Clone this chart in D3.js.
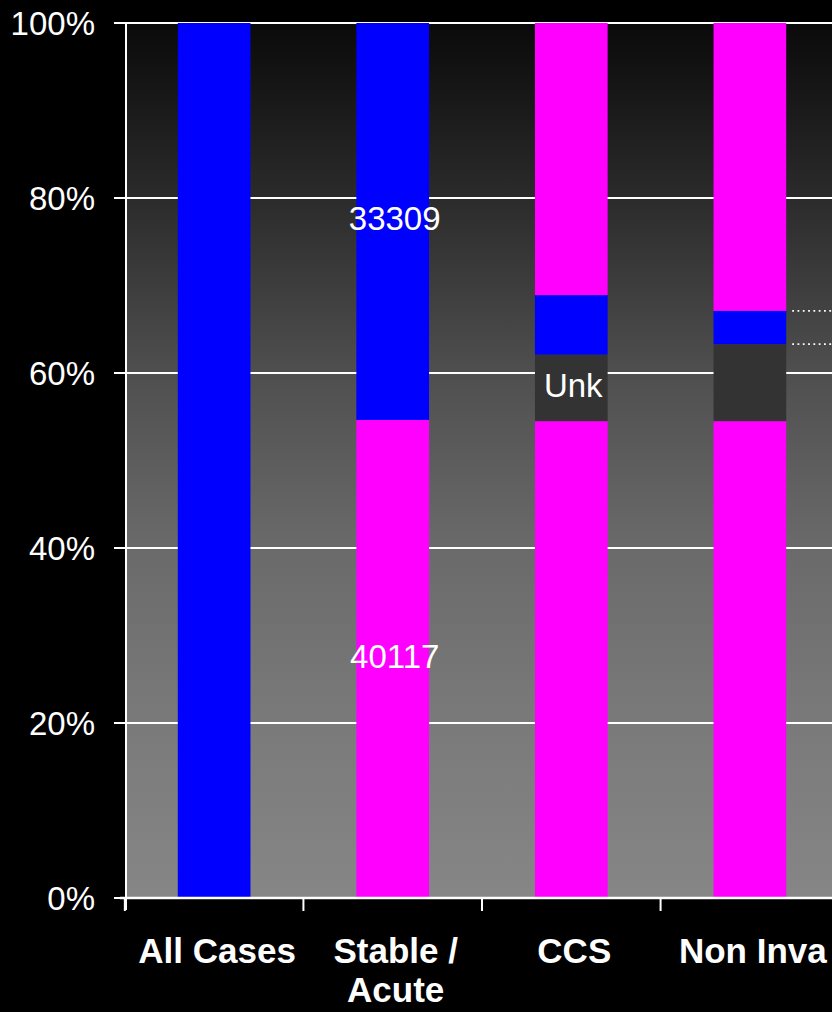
<!DOCTYPE html>
<html>
<head>
<meta charset="utf-8">
<script src="https://cdn.jsdelivr.net/npm/d3@7"></script>
<style>
  html, body { margin: 0; padding: 0; background: #000; }
  svg { display: block; }
</style>
</head>
<body>
<svg id="chart" width="832" height="1012"></svg>
<script>
// Categories along the x axis
const categories = ["All Cases", "Stable / Acute", "CCS", "Non Inva"];
const categoryLines = [["All Cases"], ["Stable /", "Acute"], ["CCS"], ["Non Inva"]];

// Stacked segments per category, percentages of the column, bottom to top
const allCases  = [0, 0, 0, 100];
const stableAcuteCounts = [40117, 33309];
const stableAcute = [
  stableAcuteCounts[0] / (stableAcuteCounts[0] + stableAcuteCounts[1]) * 100,
  0, 0,
  stableAcuteCounts[1] / (stableAcuteCounts[0] + stableAcuteCounts[1]) * 100
];
// CCS: pink, unknown, blue, pink
const ccs      = [54.5, 7.6, 6.8, 31.1];
// Non invasive: pink, unknown, blue, pink
const nonInva  = [54.5, 8.8, 3.8, 32.9];

const yTicks = [0, 20, 40, 60, 80, 100];
const yTickLabels = ["0%", "20%", "40%", "60%", "80%", "100%"];

// Segment fill per column (bottom to top)
const colorsAll    = ["#ff00ff", "#0000ff", "#333333", "#0000ff"];
const colorsStable = ["#ff00ff", "#333333", "#0000ff", "#0000ff"];
const colorsSplit  = ["#ff00ff", "#333333", "#0000ff", "#ff00ff"];

const columns = [
  { cat: categories[0], values: allCases,    colors: colorsAll },
  { cat: categories[1], values: stableAcute, colors: colorsStable },
  { cat: categories[2], values: ccs,         colors: colorsSplit },
  { cat: categories[3], values: nonInva,     colors: colorsSplit }
];

const svg = d3.select("#chart");
const plotLeft = 126, plotTop = 23, plotBottom = 898, step = 178;
const plotRight = plotLeft + step * categories.length;

const x = d3.scaleBand()
  .domain(categories)
  .range([plotLeft, plotRight])
  .paddingInner(0.593)
  .paddingOuter(0.29);

const y = d3.scaleLinear().domain([0, 100]).range([plotBottom, plotTop]);

// Plot area gradient background
const defs = svg.append("defs");
const grad = defs.append("linearGradient")
  .attr("id", "plotBg").attr("x1", 0).attr("y1", 0).attr("x2", 0).attr("y2", 1);
[[0, "#0a0a0a"], [0.2, "#2b2b2b"], [0.4, "#4f4f4f"], [0.6, "#6a6a6a"], [0.8, "#7a7a7a"], [1, "#868686"]]
  .forEach(([o, c]) => grad.append("stop").attr("offset", o).attr("stop-color", c));

svg.append("rect")
  .attr("x", plotLeft).attr("y", plotTop)
  .attr("width", plotRight - plotLeft).attr("height", plotBottom - plotTop)
  .attr("fill", "url(#plotBg)");

// Horizontal gridlines
svg.append("g")
  .selectAll("line")
  .data(yTicks.filter(d => d > 0))
  .join("line")
  .attr("x1", plotLeft).attr("x2", plotRight)
  .attr("y1", d => y(d)).attr("y2", d => y(d))
  .attr("stroke", "#fff").attr("stroke-width", 2);

// Stacked bars
columns.forEach(col => {
  let acc = 0;
  col.values.forEach((v, i) => {
    if (v <= 0) return;
    svg.append("rect")
      .attr("x", x(col.cat))
      .attr("width", x.bandwidth())
      .attr("y", y(acc + v))
      .attr("height", y(acc) - y(acc + v))
      .attr("fill", col.colors[i]);
    acc += v;
  });
});

// Series lines trailing to the right of the last column
const lastCol = columns[3];
const lineLevels = [
  lastCol.values[0] + lastCol.values[1],
  lastCol.values[0] + lastCol.values[1] + lastCol.values[2]
];
svg.append("g")
  .selectAll("line")
  .data(lineLevels)
  .join("line")
  .attr("x1", x(lastCol.cat) + x.bandwidth() + 6)
  .attr("x2", plotRight)
  .attr("y1", d => y(d)).attr("y2", d => y(d))
  .attr("stroke", "#fff").attr("stroke-width", 1.8)
  .attr("stroke-dasharray", "1.8,3.5");

// Data labels
const labelFont = "'Liberation Sans', Arial, sans-serif";
const dataLabels = [
  { cat: categories[1], lo: 0, hi: stableAcute[0], text: String(stableAcuteCounts[0]) },
  { cat: categories[1], lo: stableAcute[0], hi: 100, text: String(stableAcuteCounts[1]) },
  { cat: categories[2], lo: ccs[0], hi: ccs[0] + ccs[1], text: "Unk" }
];
svg.append("g")
  .selectAll("text")
  .data(dataLabels)
  .join("text")
  .attr("x", d => x(d.cat) + x.bandwidth() / 2 + 2)
  .attr("y", d => y((d.lo + d.hi) / 2) + 9)
  .attr("text-anchor", "middle")
  .attr("fill", "#fff")
  .attr("font-family", labelFont)
  .attr("font-size", 33)
  .text(d => d.text);

// Left axis
svg.append("line")
  .attr("x1", plotLeft).attr("x2", plotLeft).attr("y1", plotTop).attr("y2", plotBottom + 12)
  .attr("stroke", "#fff").attr("stroke-width", 2);
svg.append("g")
  .selectAll("line")
  .data(yTicks)
  .join("line")
  .attr("x1", plotLeft - 12).attr("x2", plotLeft)
  .attr("y1", d => y(d)).attr("y2", d => y(d))
  .attr("stroke", "#fff").attr("stroke-width", 2);
svg.append("g")
  .selectAll("text")
  .data(yTicks)
  .join("text")
  .attr("x", 95)
  .attr("y", d => y(d) + 12)
  .attr("text-anchor", "end")
  .attr("fill", "#fff")
  .attr("font-family", labelFont)
  .attr("font-size", 33)
  .text((d, i) => yTickLabels[i]);

// Bottom axis
svg.append("line")
  .attr("x1", plotLeft - 6).attr("x2", plotRight).attr("y1", plotBottom).attr("y2", plotBottom)
  .attr("stroke", "#fff").attr("stroke-width", 2.5);
svg.append("g")
  .selectAll("line")
  .data(categories)
  .join("line")
  .attr("x1", d => x(d) - x.step() * x.paddingInner() / 2)
  .attr("x2", d => x(d) - x.step() * x.paddingInner() / 2)
  .attr("y1", plotBottom).attr("y2", plotBottom + 13)
  .attr("stroke", "#fff").attr("stroke-width", 2);

const catLabels = svg.append("g")
  .selectAll("text")
  .data(categories)
  .join("text")
  .attr("y", 963)
  .attr("text-anchor", "middle")
  .attr("fill", "#fff")
  .attr("font-family", labelFont)
  .attr("font-weight", "bold")
  .attr("font-size", 35);
catLabels.each(function(d, i) {
  const t = d3.select(this);
  categoryLines[i].forEach((ln, j) => {
    t.append("tspan")
      .attr("x", x(d) + x.bandwidth() / 2 + 3)
      .attr("dy", j === 0 ? 0 : 39)
      .text(ln);
  });
});
</script>
</body>
</html>
